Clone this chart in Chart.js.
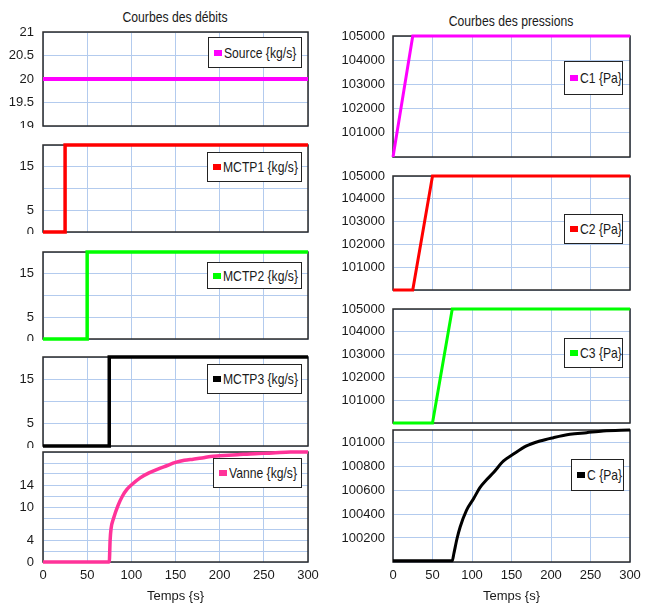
<!DOCTYPE html>
<html><head><meta charset="utf-8">
<script src="https://cdn.jsdelivr.net/npm/chart.js@4.4.1/dist/chart.umd.min.js"></script>
<style>
html,body{margin:0;padding:0;background:#fff;width:651px;height:604px;overflow:hidden;}
body{position:relative;font-family:'Liberation Sans',Arial,sans-serif;color:#1a1a1a;}
canvas{position:absolute;}
.title{position:absolute;font-size:14px;white-space:nowrap;transform:translate(-50%,-50%) scaleX(0.87);}
.leg{position:absolute;border:1.5px solid #222;background:#fff;box-sizing:border-box;}
.leg i{position:absolute;left:5px;top:50%;width:8px;height:6px;margin-top:-3px;}
.leg span{position:absolute;left:15px;top:50%;font-size:15px;line-height:16px;margin-top:-8px;white-space:nowrap;transform-origin:0 50%;transform:scaleX(0.81);}
</style></head><body>
<div class="title" style="left:175px;top:17px;">Courbes des débits</div>
<div class="title" style="left:511px;top:21px;">Courbes des pressions</div>
<script>
const FONT = "'Liberation Sans',Arial,sans-serif";
const GRID = '#b3cbee';

// ---- data ----
const timeTicks = [0, 50, 100, 150, 200, 250, 300];

const sourceTime = [0, 300];
const sourceFlow = [20, 20];

const mctp1Time = [0, 25, 25, 300];
const mctp1Flow = [0, 0, 20, 20];

const mctp2Time = [0, 50, 50, 300];
const mctp2Flow = [0, 0, 20, 20];

const mctp3Time = [0, 75, 75, 300];
const mctp3Flow = [0, 0, 20, 20];

const vanneTime = [0, 75, 76, 77, 80, 85, 90, 95, 100, 110, 120, 130, 140, 150, 160, 170, 180, 190, 200, 220, 240, 260, 280, 300];
const vanneFlow = [0, 0, 4, 6, 8, 10.3, 12, 13.2, 14, 15.3, 16.2, 16.9, 17.5, 18.1, 18.5, 18.7, 18.9, 19.2, 19.3, 19.5, 19.7, 19.8, 20, 20];

const c1Time = [0, 25, 300];
const c1Press = [100000, 105000, 105000];

const c2Time = [0, 25, 50, 300];
const c2Press = [100000, 100000, 105000, 105000];

const c3Time = [0, 50, 75, 300];
const c3Press = [100000, 100000, 105000, 105000];

const cTime = [0, 75, 77, 81, 85, 93, 102, 110, 119, 127, 140, 152, 169, 186, 203, 224, 245, 266, 300];
const cPress = [100010, 100010, 100069, 100194, 100292, 100431, 100528, 100619, 100689, 100744, 100842, 100897, 100967, 101008, 101036, 101064, 101078, 101092, 101100];

const sourceTickLabels = [19, 19.5, 20, 20.5, 21];
const mctpTickLabels = [0, 5, 15];
const vanneTickLabels = [0, 4, 10, 14];
const pressTickLabels = [101000, 102000, 103000, 104000, 105000];
const cTickLabels = [100200, 100400, 100600, 100800, 101000];

// ---- layout of panels ----
const L = {cx: 0, cw: 320, left: 43, right: 308, pad: 9, fs: 13};
const R = {cx: 320, cw: 331, left: 393, right: 630, pad: 8, fs: 13};

const panels = [
  {col: L, top: 32, bottom: 126, t: sourceTime, v: sourceFlow, color: '#ff00ff', lw: 4, min: 19, max: 21, step: 0.5, labels: sourceTickLabels,
   legend: {text: 'Source {kg/s}', x: 208, y: 37, w: 94, h: 31}},
  {col: L, top: 145, bottom: 232, t: mctp1Time, v: mctp1Flow, color: '#ff0000', lw: 3.5, min: 0, max: 20, step: 5, labels: mctpTickLabels,
   legend: {text: 'MCTP1 {kg/s}', x: 207, y: 152, w: 95, h: 30}},
  {col: L, top: 252, bottom: 339, t: mctp2Time, v: mctp2Flow, color: '#00ff00', lw: 3.5, min: 0, max: 20, step: 5, labels: mctpTickLabels,
   legend: {text: 'MCTP2 {kg/s}', x: 207, y: 262, w: 95, h: 27}},
  {col: L, top: 357, bottom: 446, t: mctp3Time, v: mctp3Flow, color: '#000000', lw: 3.5, min: 0, max: 20, step: 5, labels: mctpTickLabels,
   legend: {text: 'MCTP3 {kg/s}', x: 207, y: 364, w: 95, h: 30}},
  {col: L, top: 452, bottom: 562, t: vanneTime, v: vanneFlow, color: '#ff3399', lw: 3.5, min: 0, max: 20, step: 2, labels: vanneTickLabels, smooth: true, xAxis: true,
   legend: {text: 'Vanne {kg/s}', x: 213, y: 458, w: 89, h: 30}},
  {col: R, top: 36, bottom: 157, t: c1Time, v: c1Press, color: '#ff00ff', lw: 3, min: 100000, max: 105000, step: 1000, labels: pressTickLabels,
   legend: {text: 'C1 {Pa}', x: 564, y: 61, w: 59, h: 34}},
  {col: R, top: 176, bottom: 290, t: c2Time, v: c2Press, color: '#ff0000', lw: 3, min: 100000, max: 105000, step: 1000, labels: pressTickLabels,
   legend: {text: 'C2 {Pa}', x: 564, y: 214, w: 59, h: 30}},
  {col: R, top: 309, bottom: 423, t: c3Time, v: c3Press, color: '#00ff00', lw: 3, min: 100000, max: 105000, step: 1000, labels: pressTickLabels,
   legend: {text: 'C3 {Pa}', x: 564, y: 338, w: 59, h: 30}},
  {col: R, top: 430, bottom: 562, t: cTime, v: cPress, color: '#000000', lw: 3, min: 100000, max: 101100, step: 200, labels: cTickLabels, smooth: true, xAxis: true,
   legend: {text: 'C {Pa}', x: 571, y: 459, w: 53, h: 32}}
];

const framePlugin = {
  id: 'frame',
  beforeDatasetsDraw(chart) {
    const a = chart.chartArea, ctx = chart.ctx;
    ctx.save();
    ctx.strokeStyle = '#2a2a2a';
    ctx.lineWidth = 1.5;
    ctx.strokeRect(a.left, a.top, a.right - a.left, a.bottom - a.top);
    ctx.restore();
  }
};

panels.forEach(p => {
  const col = p.col;
  const padTop = 10;
  const padBottom = p.xAxis ? 0 : 2;
  const xH = p.xAxis ? 42 : 0;
  const c = document.createElement('canvas');
  c.width = col.cw;
  c.height = padTop + (p.bottom - p.top) + padBottom + xH;
  c.style.left = col.cx + 'px';
  c.style.top = (p.top - padTop) + 'px';
  document.body.appendChild(c);

  new Chart(c, {
    type: 'line',
    data: {
      datasets: [{
        data: p.t.map((t, i) => ({x: t, y: p.v[i]})),
        borderColor: p.color,
        backgroundColor: p.color,
        borderWidth: p.lw,
        pointRadius: 0,
        fill: false,
        tension: 0,
        cubicInterpolationMode: p.smooth ? 'monotone' : 'default',
        borderJoinStyle: 'miter',
        clip: 8
      }]
    },
    options: {
      responsive: false,
      animation: false,
      devicePixelRatio: 1,
      layout: {padding: {top: padTop, bottom: padBottom, left: 0, right: col.cx + col.cw - col.right}},
      plugins: {legend: {display: false}, tooltip: {enabled: false}},
      scales: {
        x: {
          type: 'linear', min: 0, max: 300,
          afterBuildTicks: s => { s.ticks = timeTicks.map(v => ({value: v})); },
          ticks: {display: !!p.xAxis, font: {family: FONT, size: 13}, color: '#1a1a1a', padding: 6, maxRotation: 0, autoSkip: false},
          grid: {color: GRID, drawTicks: false, lineWidth: 1},
          border: {display: false},
          title: {display: !!p.xAxis, text: 'Temps {s}', font: {family: FONT, size: 13}, color: '#1a1a1a', padding: 0},
          afterFit: s => { s.paddingLeft = 0; s.paddingRight = 0; s.height = xH; }
        },
        y: {
          min: p.min, max: p.max,
          afterBuildTicks: s => {
            const tk = [];
            for (let k = 0; p.min + k * p.step <= p.max + 1e-9; k++) tk.push({value: +(p.min + k * p.step).toFixed(6)});
            s.ticks = tk;
          },
          ticks: {
            autoSkip: false, padding: col.pad,
            font: {family: FONT, size: col.fs}, color: '#1a1a1a',
            callback: v => (p.labels.some(l => Math.abs(l - v) < 1e-6) ? String(v) : '')
          },
          grid: {color: GRID, drawTicks: false, lineWidth: 1},
          border: {display: false},
          afterFit: s => { s.width = col.left - col.cx; s.paddingTop = 0; s.paddingBottom = 0; }
        }
      }
    },
    plugins: [framePlugin]
  });

  const lg = document.createElement('div');
  lg.className = 'leg';
  lg.style.left = p.legend.x + 'px';
  lg.style.top = p.legend.y + 'px';
  lg.style.width = p.legend.w + 'px';
  lg.style.height = p.legend.h + 'px';
  const mk = document.createElement('i');
  mk.style.background = p.color;
  lg.appendChild(mk);
  const sp = document.createElement('span');
  sp.textContent = p.legend.text;
  lg.appendChild(sp);
  document.body.appendChild(lg);
});
</script>
</body></html>
